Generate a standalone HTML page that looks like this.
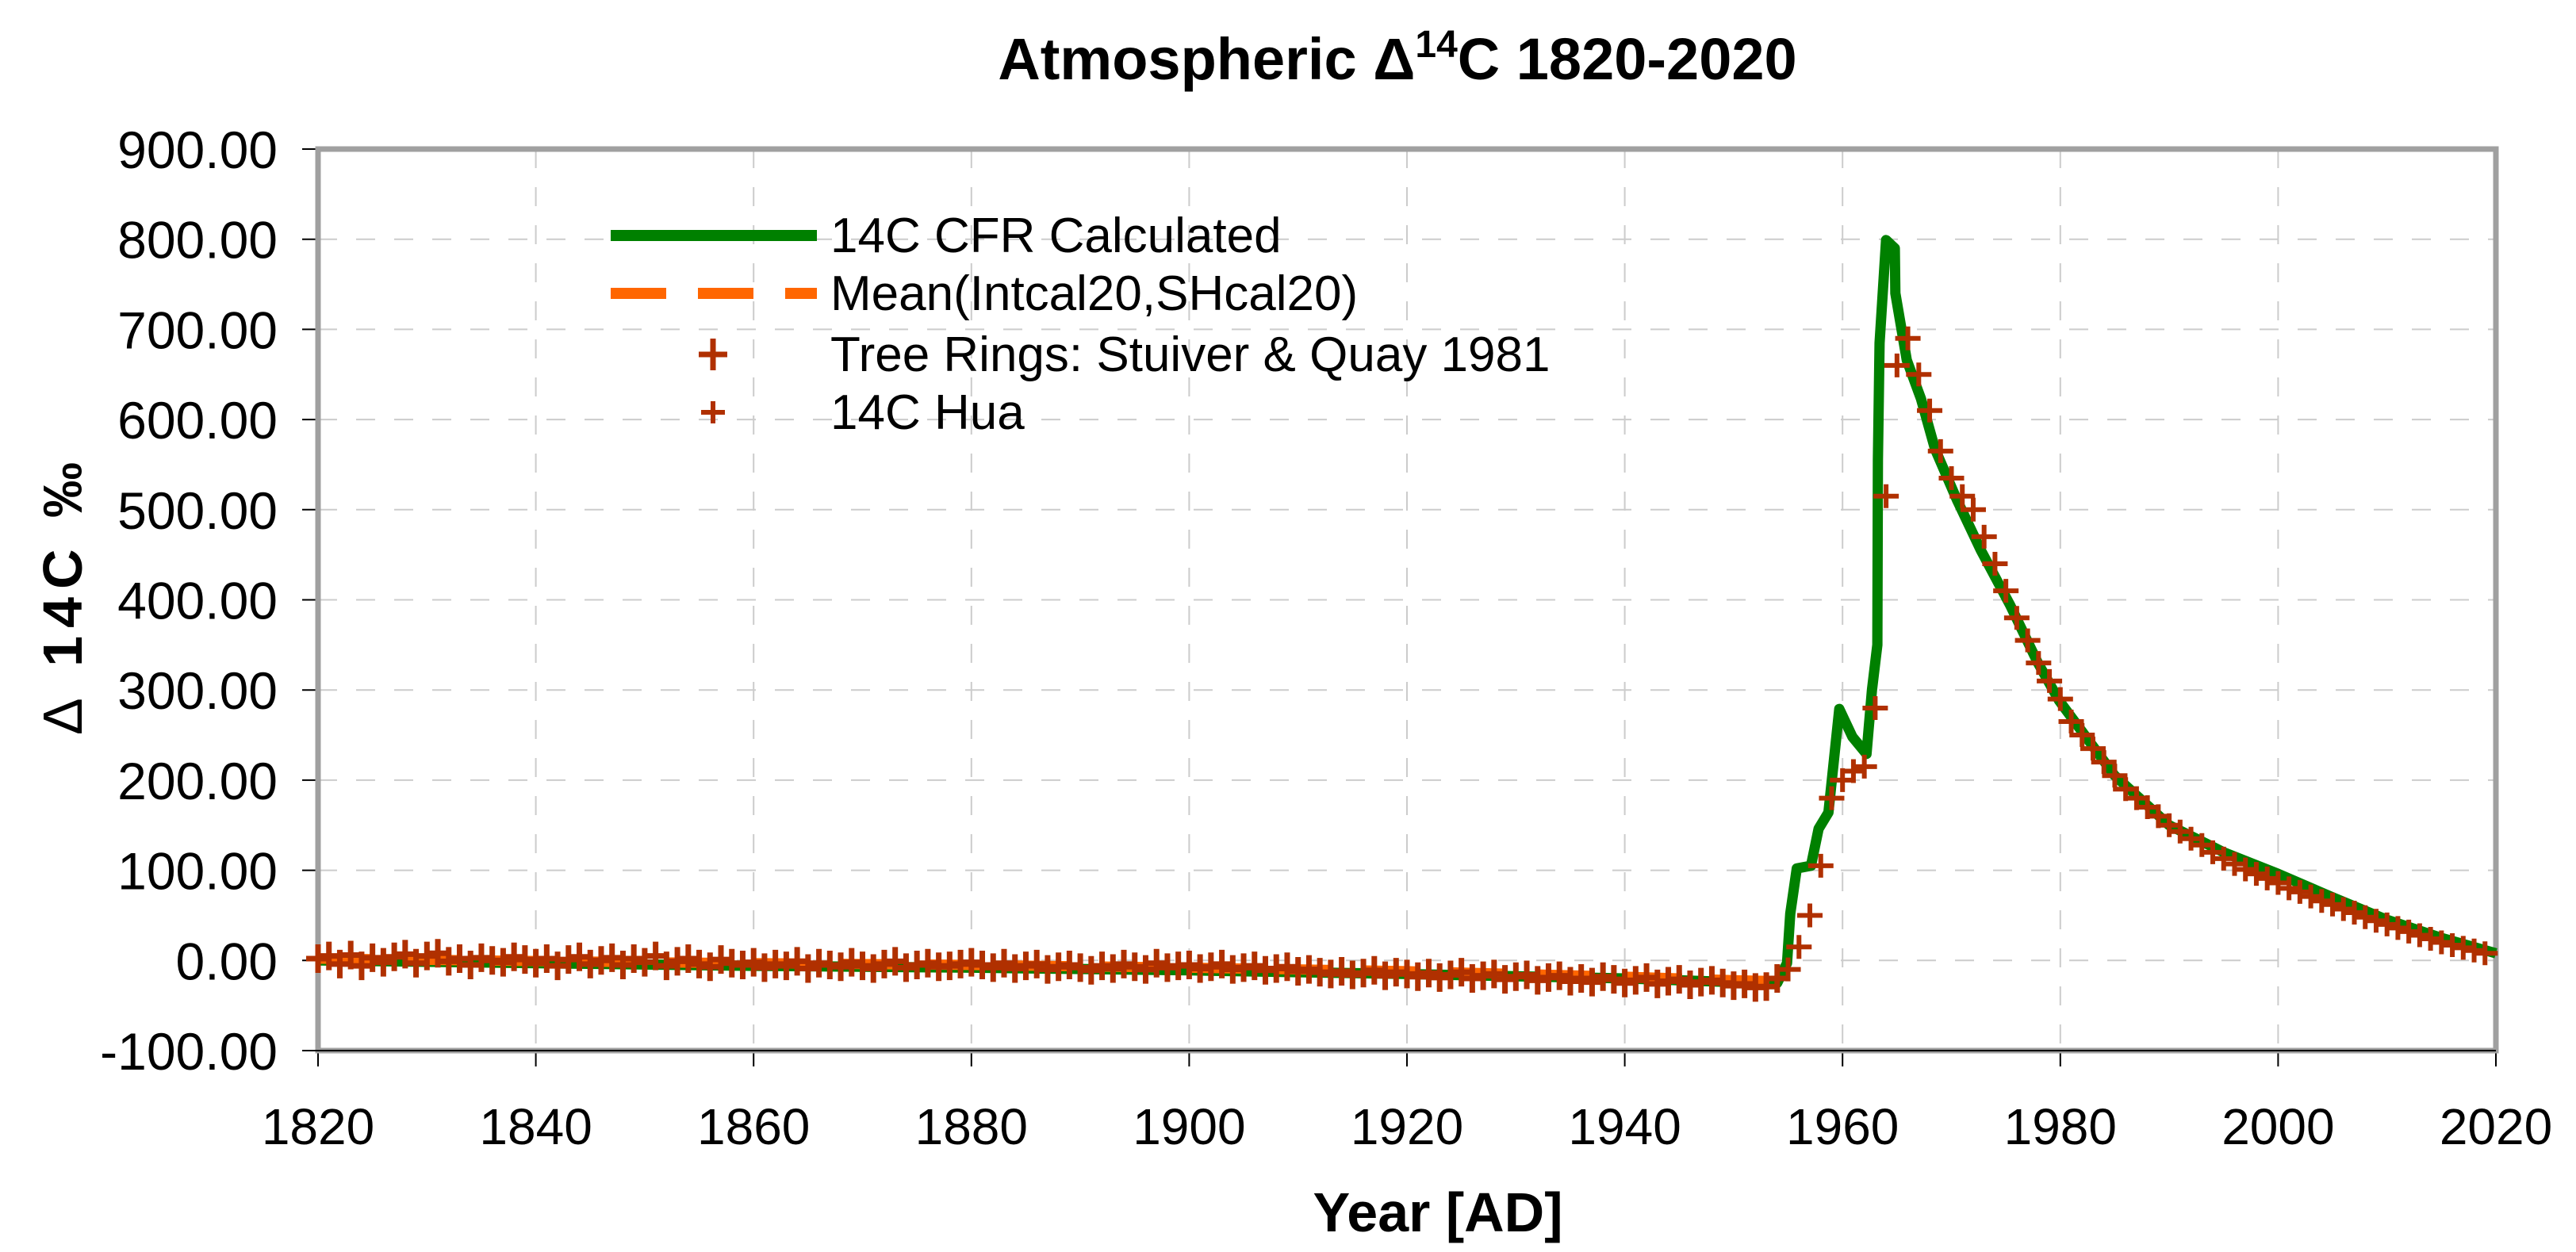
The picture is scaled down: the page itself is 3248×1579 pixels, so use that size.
<!DOCTYPE html>
<html><head><meta charset="utf-8"><style>
html,body{margin:0;padding:0;background:#fff;}
svg{display:block;font-family:"Liberation Sans",Arial,sans-serif;}
</style></head><body>
<svg id="chart" width="3248" height="1579" viewBox="0 0 3248 1579" xmlns="http://www.w3.org/2000/svg">
<rect width="3248" height="1579" fill="#fff"/>
<text x="1762" y="100" text-anchor="middle" font-size="74" font-weight="bold">Atmospheric Δ<tspan dy="-28" font-size="48">14</tspan><tspan dy="28">C 1820-2020</tspan></text>
<g id="grid"></g>
<g id="axes"></g>
<g id="series"></g>
<text x="1813" y="1553" text-anchor="middle" font-size="70" font-weight="bold">Year [AD]</text>
<text transform="translate(103,750) rotate(-90)" text-anchor="middle" font-size="70" font-weight="bold" letter-spacing="10"><tspan font-weight="normal">Δ</tspan> 14C ‰</text>
<g>
<line x1="770" y1="297" x2="1030" y2="297" stroke="#008000" stroke-width="14"/>
<text x="1047" y="318" font-size="62">14C CFR Calculated</text>
<line x1="770" y1="370" x2="1030" y2="370" stroke="#ff6600" stroke-width="14" stroke-dasharray="70,40"/>
<text x="1047" y="391" font-size="62">Mean(Intcal20,SHcal20)</text>
<path d="M881,447h36M899,427v40" stroke="#b03000" stroke-width="7"/>
<text x="1047" y="468" font-size="62">Tree Rings: Stuiver &amp; Quay 1981</text>
<path d="M884,520h30M899,506v28" stroke="#b03000" stroke-width="6"/>
<text x="1047" y="541" font-size="62">14C Hua</text>
</g>
</svg>
<script>
const xTicks = [1820,1840,1860,1880,1900,1920,1940,1960,1980,2000,2020];
const yTicks = [-100,0,100,200,300,400,500,600,700,800,900];
const cfrYears = [1820,1840,1860,1880,1900,1920,1940,1950,1954,1954.9,1955.2,1955.8,1957.1,1957.8,1958.7,1959.7,1960.9,1962.2,1962.7,1963.2,1963.25,1963.4,1964.0,1964.8,1964.85,1965.9,1967.2,1968.5,1970.5,1972.7,1975.4,1977.9,1979.9,1985,1990,1995,2000,2005,2010,2015,2020];
const cfrValues = [0,-3,-6,-8,-11,-15,-20,-24,-25,-3,52,102,105,146,164,279,248,229,300,350,555,685,799,790,740,666,623,567,511,455,394,331,288,205,150,120,96,70,45,25,8];
const meanYears = [1820,1850,1880,1900,1920,1940,1950,1954];
const meanValues = [2,-2,-5,-8,-12,-18,-22,-23];
const treeYears = [];
for (let y = 1820; y <= 1954; y++) treeYears.push(y);
const treeValues = [2,5,-4,6,-6,3,-2,4,7,-3,5,8,-1,2,-5,3,0,-2,4,1,
-3,2,-6,1,4,-4,0,3,-5,2,-2,5,-6,-1,2,-4,-7,1,-3,-5,
-2,-8,-4,-6,-1,-9,-3,-5,-7,-2,-6,-9,-4,-1,-8,-5,-3,-7,-6,-4,
-2,-5,-8,-3,-9,-6,-4,-10,-7,-5,-8,-11,-6,-9,-4,-7,-10,-3,-8,-6,
-5,-9,-7,-4,-10,-8,-6,-11,-9,-7,-12,-10,-13,-15,-12,-16,-14,-11,-17,-13,
-15,-18,-14,-19,-16,-13,-20,-17,-15,-21,-18,-16,-22,-19,-17,-23,-20,-24,-18,-21,
-25,-22,-19,-26,-23,-21,-27,-24,-22,-25,-28,-26,-30,-29,-20];
const huaYears = [1955,1956,1957,1958,1959,1960,1961,1962,1963,1964,1965,1966,1967,1968,1969,1970,1971,1972,1973,1974,1975,1976,1977,1978,1979,1980,1981,1982,1983,1984,1985,1986,1987,1988,1989,1990,1991,1992,1993,1994,1995,1996,1997,1998,1999,2000,2001,2002,2003,2004,2005,2006,2007,2008,2009,2010,2011,2012,2013,2014,2015,2016,2017,2018,2019];
const huaValues = [-10,15,50,105,180,200,210,215,280,515,660,690,650,610,565,535,515,500,470,440,410,380,355,330,310,290,265,250,235,220,205,190,180,170,160,150,143,135,128,120,113,107,101,96,91,86,80,76,71,66,62,57,53,48,44,40,36,32,28,24,20,17,14,11,8];

const L=401,R=3147,T=188,B=1325;
const xs = v => L + (v-1820)/(2020-1820)*(R-L);
const ys = v => B - (v+100)/(1000)*(B-T);
const NS="http://www.w3.org/2000/svg";
function mk(tag, parent, attrs){const e=document.createElementNS(NS,tag);for(const k in attrs)e.setAttribute(k,attrs[k]);parent.appendChild(e);return e;}
const grid=document.getElementById('grid'), axes=document.getElementById('axes'), series=document.getElementById('series');

xTicks.forEach(t=>{
  if(t>1820 && t<2020){const g=mk('line',grid,{x1:xs(t),x2:xs(t),y1:T,y2:B,stroke:'#cccccc','stroke-width':2,'stroke-dasharray':'24,24'});
  
  }
  const tk=mk('line',axes,{x1:xs(t),x2:xs(t),y1:B,y2:B+20,stroke:'#000','stroke-width':2});
  
  
  const lb=mk('text',axes,{x:xs(t),y:1443,'text-anchor':'middle','font-size':64});
  lb.textContent=t;
  
  
});
yTicks.forEach(t=>{
  if(t>-100 && t<900){const g=mk('line',grid,{x1:L,x2:R,y1:ys(t),y2:ys(t),stroke:'#cccccc','stroke-width':2,'stroke-dasharray':'24,24'});
  
  }
  const tk=mk('line',axes,{x1:L-20,x2:L,y1:ys(t),y2:ys(t),stroke:'#000','stroke-width':2});
  
  
  const lb=mk('text',axes,{x:350,y:ys(t)+24,'text-anchor':'end','font-size':66});
  lb.textContent=t.toFixed(2);
  
  
});
const frame=mk('rect',axes,{x:L,y:T,width:R-L,height:B-T,fill:'none',stroke:'#a0a0a0','stroke-width':7});


const xa=mk('line',axes,{x1:L-20,x2:R,y1:B,y2:B,stroke:'#000','stroke-width':2});



const pts=(xsA,vsA)=>xsA.map((y,i)=>xs(y).toFixed(1)+','+ys(vsA[i]).toFixed(1)).join(' ');
const cfr=mk('polyline',series,{points:pts(cfrYears,cfrValues),fill:'none',stroke:'#008000','stroke-width':13,'stroke-linejoin':'round'});


const mean=mk('polyline',series,{points:pts(meanYears,meanValues),fill:'none',stroke:'#ff6600','stroke-width':13,'stroke-dasharray':'70,40'});


treeYears.forEach((y,i)=>{
  const cx=xs(y), cy=ys(treeValues[i]);
  const p=mk('path',series,{d:`M${cx-15},${cy}h30M${cx},${cy-18}v36`,stroke:'#b03000','stroke-width':7});
  
  
});
huaYears.forEach((y,i)=>{
  const cx=xs(y), cy=ys(huaValues[i]);
  const p=mk('path',series,{d:`M${cx-16},${cy}h32M${cx},${cy-15}v30`,stroke:'#b03000','stroke-width':6});
  
  
});
</script>
</body></html>
